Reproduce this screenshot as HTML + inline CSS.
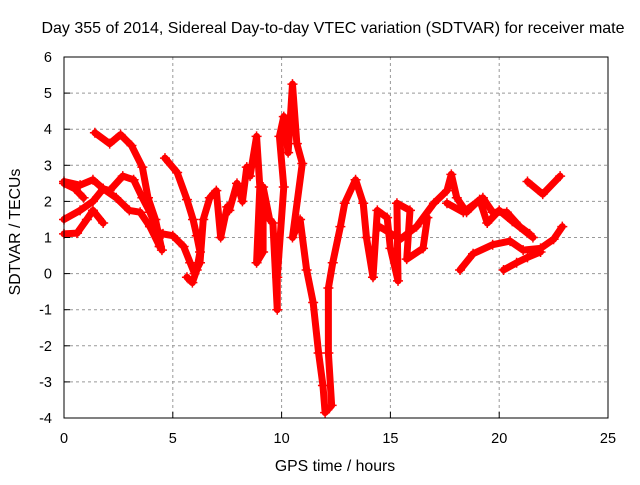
<!DOCTYPE html>
<html><head><meta charset="utf-8"><style>
body{margin:0;background:#fff}
svg text{font-family:"Liberation Sans",sans-serif;fill:#000}
</style></head><body>
<svg id="chart" width="640" height="480" xmlns="http://www.w3.org/2000/svg">
<rect width="640" height="480" fill="#fff"/>
<text x="333" y="33" font-size="16" text-anchor="middle">Day 355 of 2014, Sidereal Day-to-day VTEC variation (SDTVAR) for receiver mate</text>
<g id="grid"></g>
<g id="series"></g>
<rect x="64" y="57" width="544" height="361" fill="none" stroke="#000" stroke-width="1"/>
<g id="ticks"></g>
<text x="335" y="471" font-size="15.8" text-anchor="middle">GPS time / hours</text>
<text transform="translate(20,232) rotate(-90)" font-size="15.8" text-anchor="middle">SDTVAR / TECUs</text>
</svg>
<script>
const xTicks=[0,5,10,15,20,25];
const yTicks=[-4,-3,-2,-1,0,1,2,3,4,5,6];
const trackA=[[1.42,3.9],[2.1,3.6],[2.6,3.85],[3.1,3.55],[3.6,2.95],[3.86,2.1],[4.2,1.5],[4.5,0.65]];
const trackB=[[0,2.55],[0.74,2.45],[1.33,2.6],[1.8,2.35],[2.1,2.3],[2.7,2.7],[3.2,2.6],[3.6,2.1],[3.95,1.7],[4.3,1.2],[4.4,0.75]];
const trackB2=[[0,2.5],[0.5,2.35],[0.9,2.1]];
const trackC=[[0,1.5],[0.74,1.75],[1.33,2.0],[1.8,2.35],[2.4,2.1],[3.0,1.75],[3.5,1.7],[3.95,1.3],[4.4,0.75]];
const trackD=[[0,1.1],[0.6,1.12],[1.05,1.5],[1.33,1.75],[1.8,1.4]];
const trackE=[[4.64,3.2],[5.2,2.8],[5.65,2.05],[5.93,1.5],[6.1,1.05],[6.25,0.6],[6.1,0.1],[5.9,-0.25],[5.65,-0.1]];
const trackF=[[4.55,1.1],[5.0,1.05],[5.5,0.75],[5.8,0.3],[6.0,0.0],[6.25,0.3],[6.4,1.5],[6.7,2.1],[7.0,2.3],[7.2,1.0],[7.5,1.85],[7.6,1.75],[7.95,2.5],[8.2,2.0],[8.4,2.95],[8.55,2.7],[8.85,3.8],[9.0,2.4],[8.85,0.3],[9.15,0.6],[9.15,2.4],[9.45,1.5],[9.6,1.4],[9.8,-1.0],[9.8,-0.1],[10.1,2.4],[9.9,3.8],[10.1,4.35],[10.3,3.35],[10.5,5.25],[10.7,3.6],[10.95,3.05],[10.5,1.0],[10.85,1.5],[11.15,0.1],[11.45,-0.8],[11.7,-2.2],[11.9,-3.1],[12.0,-3.85],[12.3,-3.65],[12.15,-2.2],[12.15,-0.4],[12.35,0.3],[12.7,1.3],[12.9,1.95],[13.4,2.6],[13.75,1.95],[13.9,1.0],[14.2,-0.1],[14.4,1.75],[14.85,1.55],[15.0,0.7],[15.35,-0.2],[15.3,1.95],[15.9,1.75],[15.75,0.4],[16.5,0.7],[16.7,1.55]];
const trackG=[[14.5,1.3],[15.45,0.95],[16.2,1.3],[17.0,1.95],[17.6,2.3],[17.8,2.75],[18.05,2.1],[18.5,1.7],[19.1,2.05],[19.45,1.4],[20.0,1.75],[20.6,1.45],[21.55,1.0]];
const trackH=[[17.6,1.95],[18.35,1.7],[19.25,2.1],[19.7,1.7],[20.35,1.7],[20.95,1.3],[21.4,1.1]];
const trackI=[[18.2,0.1],[18.8,0.55],[19.7,0.8],[20.5,0.9],[21.1,0.65],[21.9,0.7],[22.5,0.95],[22.9,1.3]];
const trackJ=[[20.2,0.1],[20.8,0.3],[21.3,0.45],[21.9,0.6]];
const trackK=[[21.3,2.55],[22.0,2.2],[22.8,2.7]];
const tracks=[trackA,trackB,trackB2,trackC,trackD,trackE,trackF,trackG,trackH,trackI,trackJ,trackK];
const NS="http://www.w3.org/2000/svg";
const X=h=>64+h*544/25;
const Y=v=>57+(6-v)*361/10;
const grid=document.getElementById('grid'),ticks=document.getElementById('ticks'),ser=document.getElementById('series');
function mk(tag,attrs,parent){const e=document.createElementNS(NS,tag);for(const k in attrs)e.setAttribute(k,attrs[k]);parent.appendChild(e);return e;}
xTicks.forEach(t=>{
 if(t>0&&t<25){const g=mk('line',{x1:X(t),x2:X(t),y1:57,y2:418,stroke:'#999','stroke-dasharray':'3,3'},grid);
 
 }
 const l=mk('text',{x:X(t),y:443,'font-size':14.5,'text-anchor':'middle'},ticks);l.textContent=t;
 
 
 mk('line',{x1:X(t),x2:X(t),y1:418,y2:412,stroke:'#000'},ticks);
});
yTicks.forEach(t=>{
 if(t>-4&&t<6){const g=mk('line',{x1:64,x2:608,y1:Y(t),y2:Y(t),stroke:'#999','stroke-dasharray':'3,3'},grid);
 
 }
 const l=mk('text',{x:52,y:Y(t)+5,'font-size':14.5,'text-anchor':'end'},ticks);l.textContent=t;
 
 
 mk('line',{x1:64,x2:70,y1:Y(t),y2:Y(t),stroke:'#000'},ticks);
});
tracks.forEach(tr=>{
 const p=mk('polyline',{points:tr.map(d=>X(d[0])+','+Y(d[1])).join(' '),fill:'none',stroke:'#f00','stroke-width':7,'stroke-linejoin':'round','stroke-linecap':'round'},ser);
 
 
 tr.forEach(d=>{
  const m=mk('path',{d:`M${X(d[0])-5},${Y(d[1])}h10M${X(d[0])},${Y(d[1])-5}v10`,stroke:'#f00','stroke-width':1.5},ser);
  
  
 });
});
</script>
</body></html>
